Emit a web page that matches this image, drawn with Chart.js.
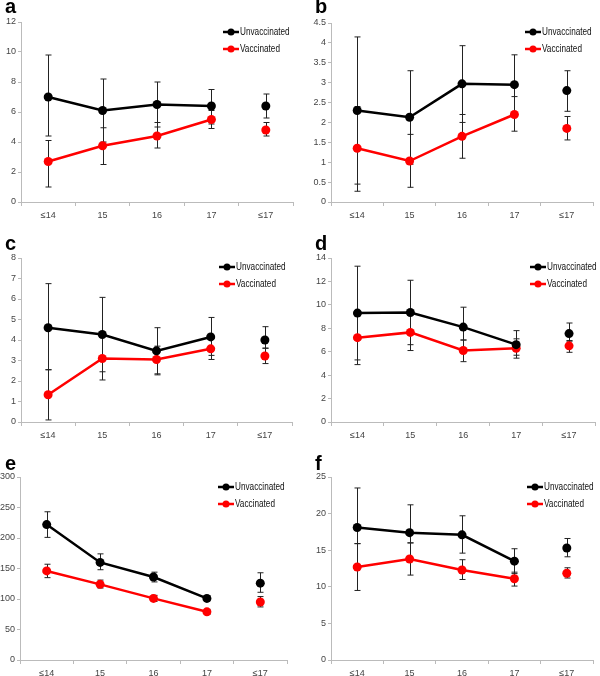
<!DOCTYPE html>
<html lang="en">
<head>
  <meta charset="UTF-8" />
  <title>Unvaccinated vs Vaccinated by age</title>
  <script src="https://cdn.jsdelivr.net/npm/chart.js"></script>
  <style>
    body { margin: 0; background: #fff; }
    #wrap { position: relative; width: 600px; height: 676px; }
    #wrap canvas { position: absolute; }
  </style>
</head>
<body>
<div id="wrap"></div>

<script>
  // data
  const categories = ['≤14', '15', '16', '17', '≤17'];
  const seriesNames = ['Unvaccinated', 'Vaccinated'];

  // panel a
  const unvacA = [7.0, 6.1, 6.5, 6.4, 6.4];
  const unvacALo = [4.4, 4.0, 5.0, 5.2, 5.6];
  const unvacAHi = [9.8, 8.2, 8.0, 7.5, 7.2];
  const vacA = [2.7, 3.75, 4.4, 5.5, 4.8];
  const vacALo = [1.0, 2.5, 3.6, 4.9, 4.4];
  const vacAHi = [4.1, 4.95, 5.3, 6.1, 5.3];

  // panel b
  const unvacB = [2.3, 2.13, 2.97, 2.95, 2.8];
  const unvacBLo = [0.45, 0.95, 2.0, 2.2, 2.28];
  const unvacBHi = [4.15, 3.3, 3.93, 3.7, 3.3];
  const vacB = [1.35, 1.03, 1.65, 2.2, 1.85];
  const vacBLo = [0.27, 0.37, 1.1, 1.78, 1.56];
  const vacBHi = [2.4, 1.7, 2.2, 2.65, 2.15];

  // panel c
  const unvacC = [4.6, 4.27, 3.47, 4.15, 4.0];
  const unvacCLo = [2.55, 2.45, 2.35, 3.25, 3.6];
  const unvacCHi = [6.75, 6.08, 4.6, 5.1, 4.65];
  const vacC = [1.33, 3.1, 3.05, 3.57, 3.22];
  const vacCLo = [0.1, 2.05, 2.3, 3.05, 2.85];
  const vacCHi = [2.55, 4.2, 3.7, 4.1, 3.6];

  // panel d
  const unvacD = [9.3, 9.35, 8.1, 6.6, 7.55];
  const unvacDLo = [5.3, 6.6, 7.0, 5.7, 6.9];
  const unvacDHi = [13.3, 12.1, 9.8, 7.8, 8.45];
  const vacD = [7.2, 7.65, 6.1, 6.3, 6.5];
  const vacDLo = [4.9, 6.1, 5.15, 5.45, 5.95];
  const vacDHi = [9.3, 9.2, 7.0, 7.1, 6.95];

  // panel e
  const unvacE = [222, 160, 136, 101, 126];
  const unvacELo = [201, 148, 128, 97, 111];
  const unvacEHi = [243, 174, 144, 105, 143];
  const vacE = [146, 124, 101, 79, 95];
  const vacELo = [135, 118, 96, 75, 87];
  const vacEHi = [157, 131, 106, 83, 104];

  // panel f
  const unvacF = [18.1, 17.4, 17.1, 13.5, 15.3];
  const unvacFLo = [15.9, 16.0, 14.6, 11.8, 14.1];
  const unvacFHi = [23.5, 21.2, 19.7, 15.2, 16.6];
  const vacF = [12.7, 13.8, 12.3, 11.1, 11.85];
  const vacFLo = [9.5, 11.6, 11.0, 10.1, 11.2];
  const vacFHi = [15.9, 16.0, 13.7, 12.0, 12.6];

  const FONT = '"Liberation Sans", Arial, sans-serif';

  const panels = [
    { tag: 'a', left: 0,   top: 0,   h: 225, area: { l: 21, r: 293, t: 22, b: 202 }, max: 12,  step: 2,   lab: [5, 13],   leg: [223, 32],
      s: [[unvacA, unvacALo, unvacAHi], [vacA, vacALo, vacAHi]] },
    { tag: 'b', left: 300, top: 0,   h: 225, area: { l: 31, r: 293, t: 23, b: 202 }, max: 4.5, step: 0.5, lab: [15, 13],  leg: [225, 32],
      s: [[unvacB, unvacBLo, unvacBHi], [vacB, vacBLo, vacBHi]] },
    { tag: 'c', left: 0,   top: 225, h: 225, area: { l: 21, r: 292, t: 33, b: 197 }, max: 8,   step: 1,   lab: [5, 25],   leg: [219, 42],
      s: [[unvacC, unvacCLo, unvacCHi], [vacC, vacCLo, vacCHi]] },
    { tag: 'd', left: 300, top: 225, h: 225, area: { l: 31, r: 298, t: 33, b: 197 }, max: 14,  step: 2,   lab: [15, 25],  leg: [230, 42],
      s: [[unvacD, unvacDLo, unvacDHi], [vacD, vacDLo, vacDHi]] },
    { tag: 'e', left: 0,   top: 450, h: 226, area: { l: 20, r: 287, t: 27, b: 210 }, max: 300, step: 50,  lab: [5, 20],   leg: [218, 37],
      s: [[unvacE, unvacELo, unvacEHi], [vacE, vacELo, vacEHi]] },
    { tag: 'f', left: 300, top: 450, h: 226, area: { l: 31, r: 293, t: 27, b: 210 }, max: 25,  step: 5,   lab: [15, 20],  leg: [227, 37],
      s: [[unvacF, unvacFLo, unvacFHi], [vacF, vacFLo, vacFHi]] }
  ];

  const colors = ['#000000', '#ff0000'];

  // whiskers for every point, drawn under the markers
  const errorBars = {
    id: 'errorBars',
    beforeDatasetsDraw(chart) {
      const ctx = chart.ctx, x = chart.scales.x, y = chart.scales.y;
      ctx.save();
      ctx.strokeStyle = '#222';
      ctx.lineWidth = 1;
      chart.data.datasets.forEach(ds => {
        ds.data.forEach((v, i) => {
          const px = Math.round(x.getPixelForValue(i)) + 0.5;
          const lo = y.getPixelForValue(ds.lo[i]);
          const hi = y.getPixelForValue(ds.hi[i]);
          ctx.beginPath();
          ctx.moveTo(px, lo); ctx.lineTo(px, hi);
          ctx.moveTo(px - 3, lo); ctx.lineTo(px + 3, lo);
          ctx.moveTo(px - 3, hi); ctx.lineTo(px + 3, hi);
          ctx.stroke();
        });
      });
      ctx.restore();
    }
  };

  // panel letter and the little legend inside the plot
  const decor = {
    id: 'decor',
    afterDraw(chart) {
      const p = chart.options.plugins.decor;
      const ctx = chart.ctx;
      ctx.save();
      ctx.fillStyle = '#000';
      ctx.font = 'bold 20px Arial, sans-serif';
      ctx.textBaseline = 'alphabetic';
      ctx.fillText(p.tag, p.lab[0], p.lab[1]);

      ctx.font = '10px ' + FONT;
      ctx.textBaseline = 'middle';
      seriesNames.forEach((name, k) => {
        const lx = p.leg[0], ly = p.leg[1] + k * 17;
        ctx.strokeStyle = colors[k];
        ctx.lineWidth = 2.5;
        ctx.beginPath();
        ctx.moveTo(lx, ly); ctx.lineTo(lx + 16, ly);
        ctx.stroke();
        ctx.fillStyle = colors[k];
        ctx.beginPath();
        ctx.arc(lx + 8, ly, 3.5, 0, Math.PI * 2);
        ctx.fill();
        // the legend type is narrow in the original
        ctx.save();
        ctx.translate(lx + 17, ly + 0.5);
        ctx.scale(0.82, 1);
        ctx.fillStyle = '#111';
        ctx.fillText(name, 0, 0);
        ctx.restore();
      });
      ctx.restore();
    }
  };

  const wrap = document.getElementById('wrap');

  panels.forEach(p => {
    const cv = document.createElement('canvas');
    cv.width = 300;
    cv.height = p.h;
    cv.style.left = p.left + 'px';
    cv.style.top = p.top + 'px';
    wrap.appendChild(cv);

    new Chart(cv, {
      type: 'line',
      data: {
        labels: categories,
        datasets: p.s.map((s, k) => ({
          label: seriesNames[k],
          data: s[0],
          lo: s[1],
          hi: s[2],
          borderColor: colors[k],
          backgroundColor: colors[k],
          borderWidth: 2.5,
          pointRadius: 4.5,
          pointBorderWidth: 0,
          pointBackgroundColor: colors[k],
          tension: 0,
          // the pooled <=17 point stands on its own
          segment: { borderColor: ctx => ctx.p1DataIndex === 4 ? 'rgba(0,0,0,0)' : colors[k] }
        }))
      },
      options: {
        responsive: false,
        animation: false,
        layout: { padding: { top: p.area.t, right: 300 - p.area.r, left: 0, bottom: 0 } },
        plugins: {
          legend: { display: false },
          tooltip: { enabled: false },
          decor: { tag: p.tag, lab: p.lab, leg: p.leg }
        },
        scales: {
          x: {
            offset: true,
            afterFit: s => { s.height = p.h - p.area.b; },
            grid: { display: true, offset: true, drawOnChartArea: false, tickLength: 4, color: '#bbb' },
            border: { color: '#bbb' },
            ticks: { color: '#444', font: { family: FONT, size: 9 }, padding: 4 }
          },
          y: {
            min: 0,
            max: p.max,
            afterFit: s => { s.width = p.area.l; },
            grid: { display: true, drawOnChartArea: false, tickLength: 3, color: '#bbb' },
            border: { color: '#bbb' },
            ticks: { stepSize: p.step, color: '#444', font: { family: FONT, size: 9 }, padding: 2, callback: v => String(v) }
          }
        }
      },
      plugins: [errorBars, decor]
    });
  });
</script>
</body>
</html>
